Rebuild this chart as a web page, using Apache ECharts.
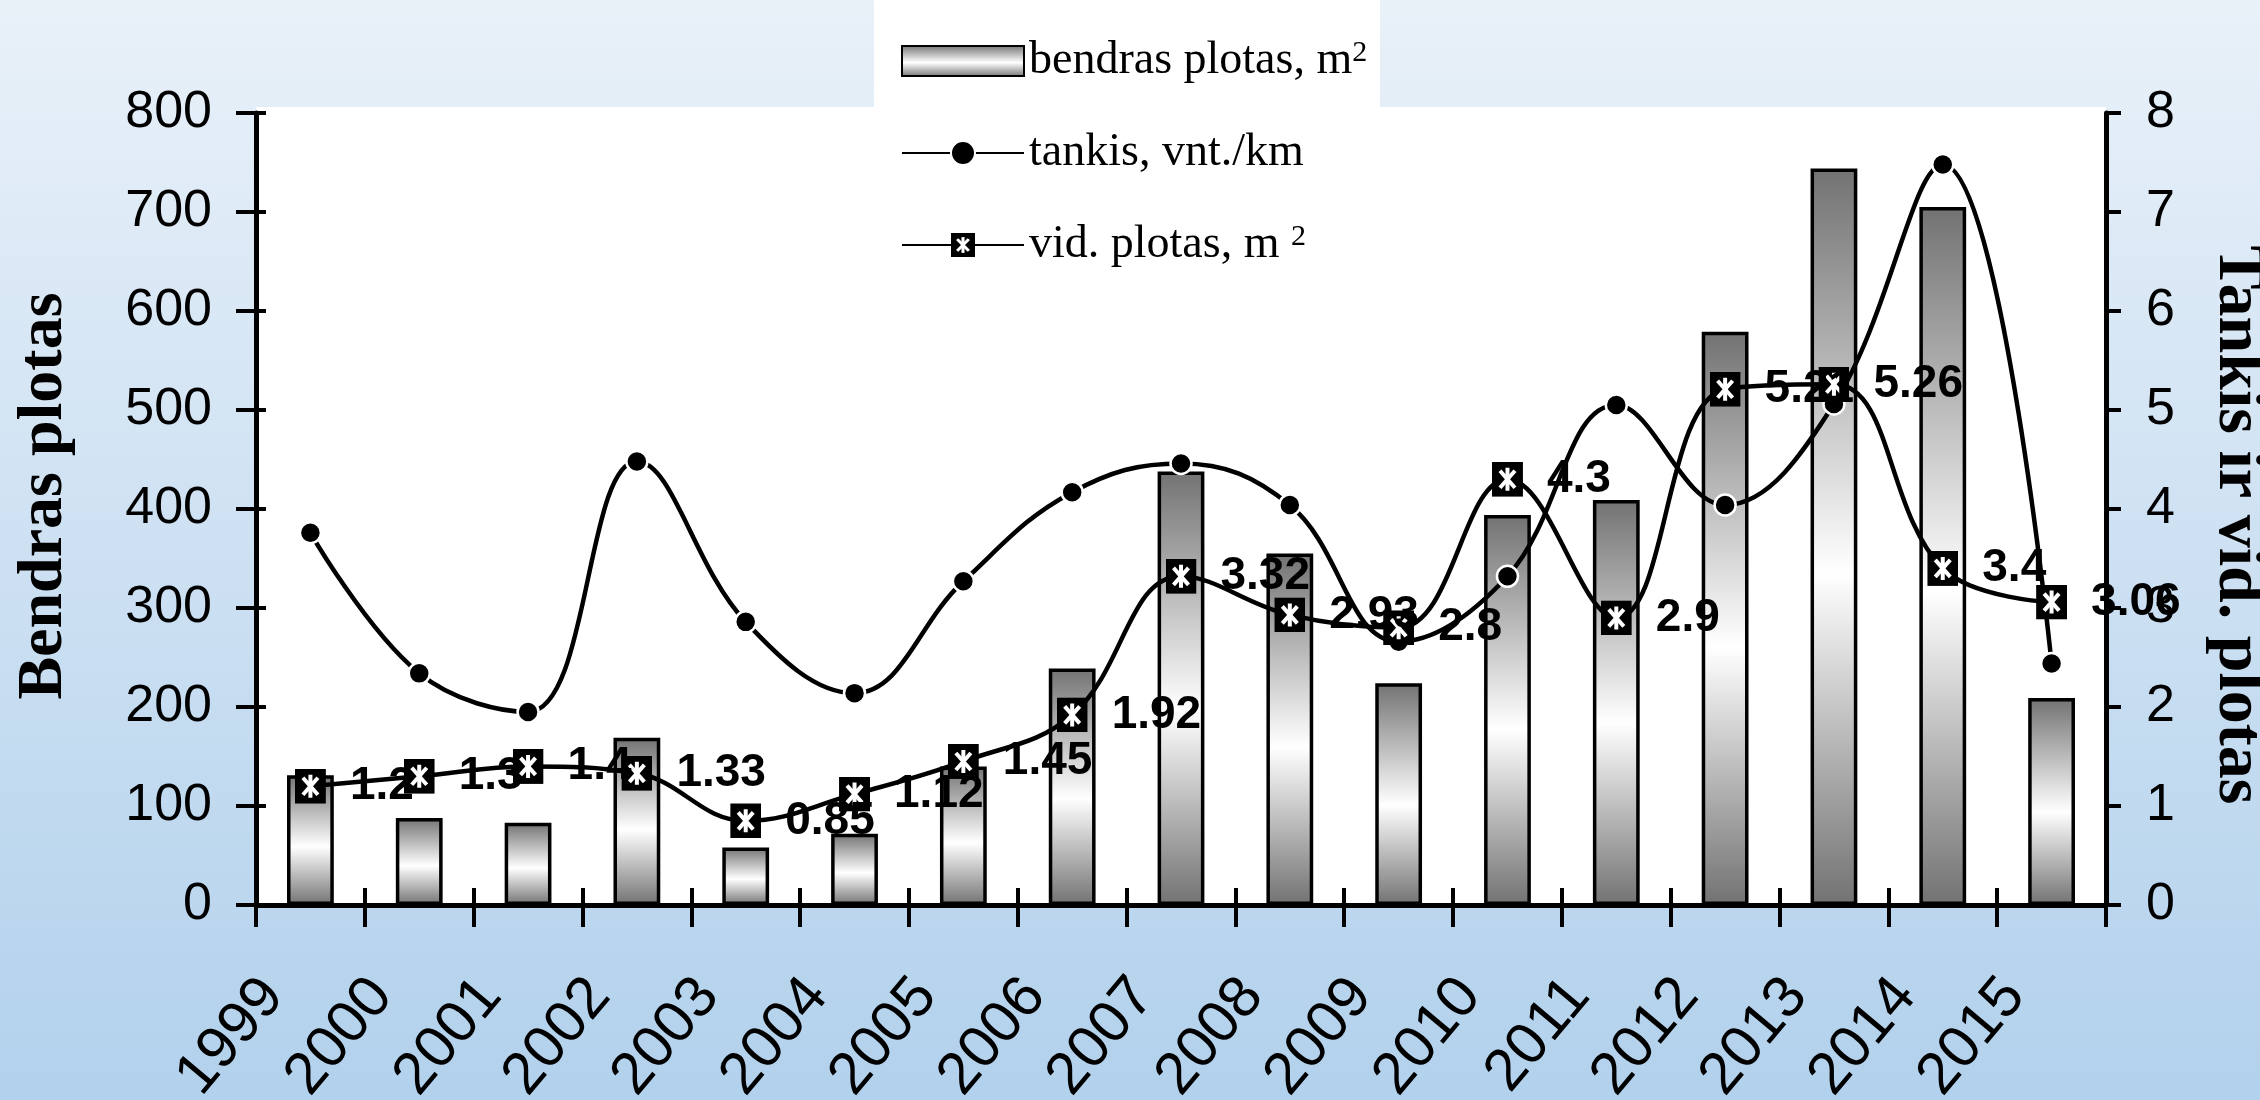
<!DOCTYPE html>
<html>
<head>
<meta charset="utf-8">
<script src="https://cdn.jsdelivr.net/npm/echarts@6/dist/echarts.min.js"></script>
<style>
  html, body { margin: 0; padding: 0; }
  #chart { width: 2260px; height: 1100px; }
</style>
</head>
<body>
<div id="chart"></div>
<script>
// data
const years = ['1999', '2000', '2001', '2002', '2003', '2004', '2005', '2006', '2007',
  '2008', '2009', '2010', '2011', '2012', '2013', '2014', '2015']
const bendrasPlotas = [131, 88, 83, 169, 58, 72, 140, 239, 438, 355, 224, 394, 409, 579, 744, 705, 209]
const tankis = [3.76, 2.34, 1.95, 4.48, 2.86, 2.14, 3.27, 4.17, 4.46, 4.04, 2.66, 3.32, 5.05, 4.04, 5.06, 7.48, 2.44]
const vidPlotas = [1.2, 1.3, 1.4, 1.33, 0.85, 1.12, 1.45, 1.92, 3.32, 2.93, 2.8, 4.3, 2.9, 5.21, 5.26, 3.4, 3.06]

const SERIF = 'Liberation Serif'
const SANS = 'Liberation Sans'

// black square marker with white asterisk
const markerSvg = '<svg xmlns="http://www.w3.org/2000/svg" width="31" height="35" viewBox="0 0 31 35">' +
  '<rect width="31" height="35" fill="#000"/>' +
  '<g stroke="#fff" stroke-width="4"><line x1="15.5" y1="6" x2="15.5" y2="29"/>' +
  '<line x1="8" y1="9" x2="23" y2="26"/><line x1="23" y1="9" x2="8" y2="26"/></g></svg>'
const markerImg = 'image://data:image/svg+xml;utf8,' + encodeURIComponent(markerSvg)

const barGradient = new echarts.graphic.LinearGradient(0, 0, 0, 1, [
  { offset: 0, color: '#727272' },
  { offset: 0.55, color: '#ffffff' },
  { offset: 1, color: '#727272' },
])

const chart = echarts.init(document.getElementById('chart'))

const axisLine = { show: true, lineStyle: { color: '#000', width: 5 } }

chart.setOption({
  animation: false,
  backgroundColor: new echarts.graphic.LinearGradient(0, 0, 0, 1, [
    { offset: 0, color: '#e9f1f9' },
    { offset: 1, color: '#b2d1ec' },
  ]),
  graphic: [
    // plot area + legend box
    { type: 'rect', z: -1, shape: { x: 256, y: 107, width: 1850, height: 798 }, style: { fill: '#fff' } },
    { type: 'rect', z: -1, shape: { x: 874, y: 0, width: 506, height: 108 }, style: { fill: '#fff' } },
  ],
  grid: { left: 256, right: 154, top: 113, bottom: 195, containLabel: false, outerBoundsMode: 'none' },
  legend: {
    orient: 'vertical',
    left: 896,
    top: 33,
    itemWidth: 122,
    itemHeight: 30,
    itemGap: 46,
    data: [
      { name: 'bendras', icon: 'rect' },
      { name: 'tankis' },
      { name: 'vid' },
    ],
    formatter: (name) => ({
      bendras: 'bendras plotas, m{sup|2}',
      tankis: 'tankis, vnt./km',
      vid: 'vid. plotas, m {sup|2}',
    })[name],
    textStyle: {
      fontFamily: SERIF, fontSize: 46, lineHeight: 46, color: '#000',
      rich: { sup: { fontFamily: SERIF, fontSize: 30, color: '#000', verticalAlign: 'top' } },
    },
  },
  xAxis: [
    {
      type: 'category',
      data: years,
      axisLine,
      axisTick: { show: true, length: 22, lineStyle: { color: '#000', width: 4 } },
      axisLabel: {
        fontFamily: SANS, fontSize: 59, color: '#000', rotate: 50, margin: 37, interval: 0,
        padding: [0, 58, 0, 0],
      },
    },
    {
      // inner half of the crossing ticks
      type: 'category',
      data: years,
      position: 'bottom',
      axisLine: { show: false },
      axisTick: { show: true, inside: true, length: 17, lineStyle: { color: '#000', width: 4 } },
      axisLabel: { show: false },
    },
  ],
  yAxis: [
    {
      type: 'value',
      min: 0, max: 800, interval: 100,
      name: 'Bendras plotas',
      nameLocation: 'middle',
      nameRotate: 90,
      nameGap: 180,
      nameTextStyle: { fontFamily: SERIF, fontSize: 64, fontWeight: 'bold', color: '#000', padding: [0, 0, 0, 26] },
      axisLine,
      axisTick: { show: true, length: 20, lineStyle: { color: '#000', width: 4 } },
      axisLabel: { fontFamily: SANS, fontSize: 52, color: '#000', margin: 44 },
      splitLine: { show: false },
    },
    {
      type: 'value',
      min: 0, max: 8, interval: 1,
      position: 'right',
      name: 'Tankis ir vid. plotas',
      nameLocation: 'middle',
      nameRotate: -90,
      nameGap: 98,
      nameTextStyle: { fontFamily: SERIF, fontSize: 66, fontWeight: 'bold', color: '#000', padding: [0, 0, 0, 32] },
      axisLine,
      axisTick: { show: true, length: 15, lineStyle: { color: '#000', width: 4 } },
      axisLabel: { fontFamily: SANS, fontSize: 52, color: '#000', margin: 40 },
      splitLine: { show: false },
    },
    {
      type: 'value',
      min: 0, max: 800, interval: 100,
      position: 'left',
      axisLine: { show: false },
      axisTick: { show: true, inside: true, length: 10, lineStyle: { color: '#000', width: 4 } },
      axisLabel: { show: false },
      splitLine: { show: false },
    },
  ],
  series: [
    {
      name: 'bendras',
      type: 'bar',
      yAxisIndex: 0,
      data: bendrasPlotas,
      barWidth: '43%',
      itemStyle: { color: barGradient, borderColor: '#000', borderWidth: 3.5 },
    },
    {
      name: 'tankis',
      type: 'line',
      yAxisIndex: 1,
      data: tankis,
      smooth: 0.4,
      symbol: 'circle',
      symbolSize: 21,
      lineStyle: { color: '#000', width: 4.5 },
      itemStyle: { color: '#000', borderColor: '#fff', borderWidth: 2.5 },
    },
    {
      name: 'vid',
      type: 'line',
      yAxisIndex: 1,
      data: vidPlotas,
      smooth: 0.4,
      symbol: markerImg,
      symbolSize: [31, 35],
      lineStyle: { color: '#000', width: 4.5 },
      itemStyle: { color: '#000' },
      label: {
        show: true,
        position: 'right',
        distance: 24,
        fontFamily: SANS,
        fontSize: 46,
        fontWeight: 'bold',
        color: '#000',
      },
    },
  ],
})
</script>
</body>
</html>
